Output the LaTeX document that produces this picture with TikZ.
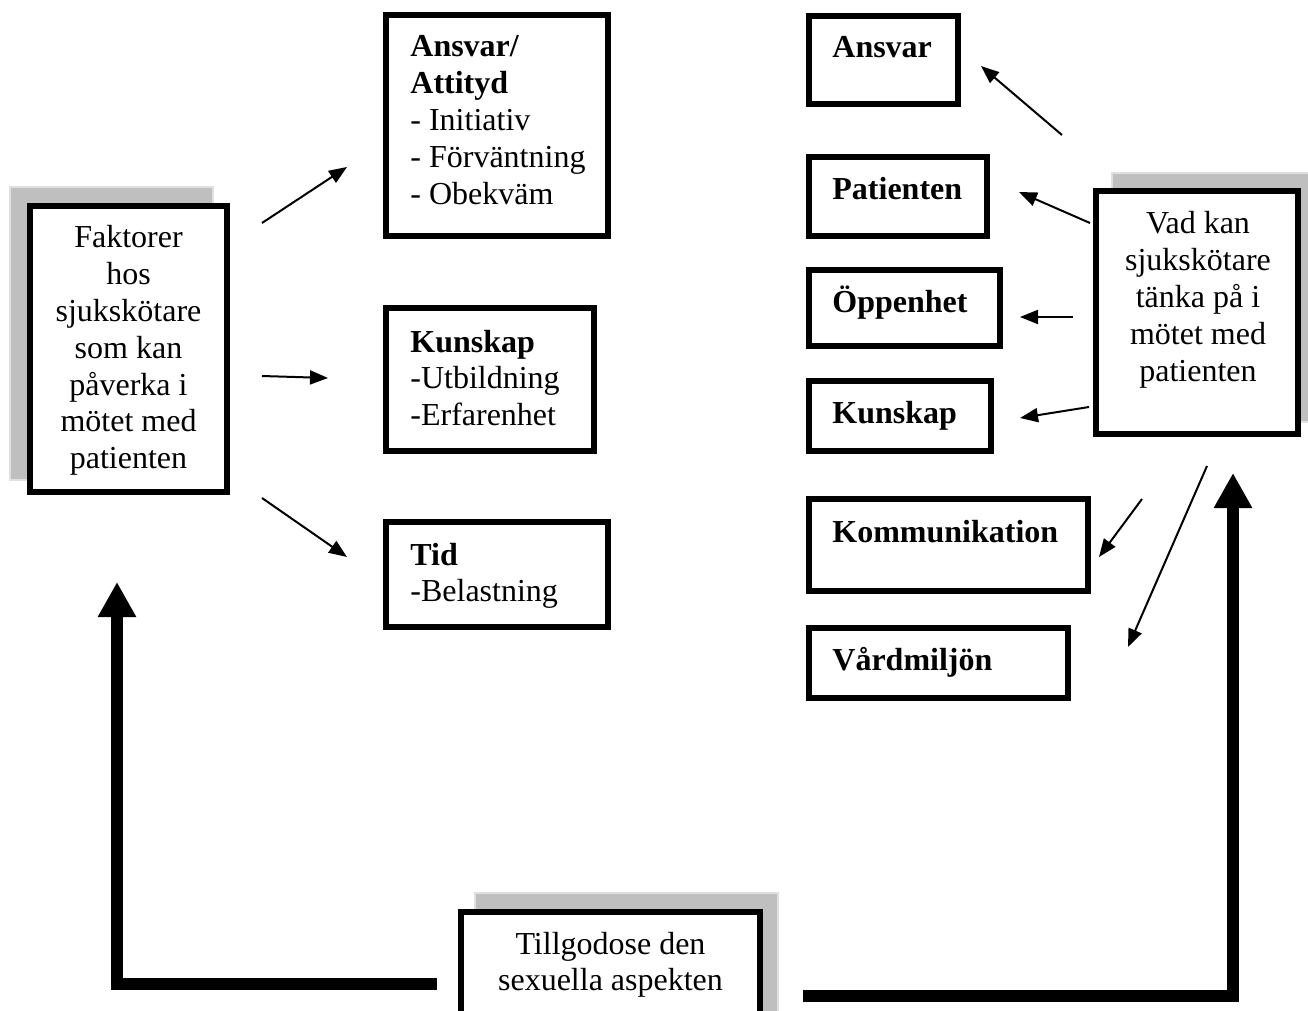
\documentclass[tikz,border=0pt]{standalone}
\usepackage{fontspec}
\setmainfont{Liberation Serif}
\usetikzlibrary{arrows.meta}
\begin{document}
\begin{tikzpicture}[x=0.5pt,y=-0.5pt,
  box/.style={draw=black, line width=3pt, fill=white, inner sep=0pt, rectangle},
  shadowbox/.style={fill=black!25, draw=black!12, line width=0.8pt},
  lbl/.style={inner sep=0pt, font=\fontsize{16}{18.4}\selectfont},
  boldlbl/.style={lbl, anchor=base west, font=\fontsize{16}{18.4}\selectfont\bfseries},
  thinarrow/.style={line width=1pt, -{Triangle[length=9pt,width=7pt]}},
  thickarrow/.style={line width=6pt, -{Triangle[length=17.5pt,width=18pt]}, line join=miter}
]
\useasboundingbox (0,0) rectangle (1308,1011);
\clip (0,0) rectangle (1308,1011);

% shadows
\path[shadowbox] (10,187) rectangle (213,480);
\path[shadowbox] (1112,173) rectangle (1322,422);
\path[shadowbox] (475,893) rectangle (778,1040);

% main boxes
\node[box, minimum width=98.5pt, minimum height=143pt] (fak) at (128.5,349) {};
\node[box, minimum width=111pt, minimum height=110.5pt] (ansatt) at (497,125.5) {};
\node[box, minimum width=104pt, minimum height=71.5pt] (kunm) at (490,379.5) {};
\node[box, minimum width=111pt, minimum height=52.5pt] (tid) at (497,574.5) {};
\node[box, minimum width=74.5pt, minimum height=44pt] (ansr) at (883.5,60) {};
\node[box, minimum width=89pt, minimum height=39.5pt] (pat) at (898,196.5) {};
\node[box, minimum width=95.5pt, minimum height=38pt] (opp) at (904.5,308) {};
\node[box, minimum width=91pt, minimum height=35pt] (kunr) at (900,416) {};
\node[box, minimum width=139.5pt, minimum height=46pt] (kom) at (948.5,545) {};
\node[box, minimum width=129.5pt, minimum height=35pt] (vard) at (938.5,663) {};
\node[box, minimum width=101pt, minimum height=121.5pt] (vad) at (1197,312.5) {};
\node[box, minimum width=149.5pt, minimum height=64pt] (till) at (610.5,976) {};

% texts
\node[lbl, anchor=base] (fak-t) at (128.5,248) {\begin{tabular}[t]{@{}c@{}}Faktorer\\hos\\sjukskötare\\som kan\\påverka i\\mötet med\\patienten\end{tabular}};
\node[lbl, anchor=base] (vad-t) at (1198,234) {\begin{tabular}[t]{@{}c@{}}Vad kan\\sjukskötare\\tänka på i\\mötet med\\patienten\end{tabular}};
\node[lbl, anchor=base] (till-t) at (610.5,954) {\begin{tabular}[t]{@{}c@{}}Tillgodose den\\sexuella aspekten\end{tabular}};

\node[lbl, anchor=base west] (ansatt-t) at (410,57) {\begin{tabular}[t]{@{}l@{}}\textbf{Ansvar/}\\\textbf{Attityd}\\- Initiativ\\- Förväntning\\- Obekväm\end{tabular}};
\node[lbl, anchor=base west] (kunm-t) at (410,352) {\begin{tabular}[t]{@{}l@{}}\textbf{Kunskap}\\-Utbildning\\-Erfarenhet\end{tabular}};
\node[lbl, anchor=base west] (tid-t) at (410,565) {\begin{tabular}[t]{@{}l@{}}\textbf{Tid}\\-Belastning\end{tabular}};

\node[boldlbl] (ansr-t) at (832,58) {Ansvar};
\node[boldlbl] (pat-t) at (832,199) {Patienten};
\node[boldlbl] (opp-t) at (832,312) {Öppenhet};
\node[boldlbl] (kunr-t) at (832,423) {Kunskap};
\node[boldlbl] (kom-t) at (832,542) {Kommunikation};
\node[boldlbl] (vard-t) at (832,670) {Vårdmiljön};

% arrow end points
\coordinate (a1s) at (262,223); \coordinate (a1e) at (347,167);
\coordinate (a2s) at (262,376); \coordinate (a2e) at (328,378);
\coordinate (a3s) at (262,498); \coordinate (a3e) at (347,557);
\coordinate (b1s) at (1062,135); \coordinate (b1e) at (981,66);
\coordinate (b2s) at (1090,223); \coordinate (b2e) at (1019,192);
\coordinate (b3s) at (1073,317); \coordinate (b3e) at (1020,317);
\coordinate (b4s) at (1089,407); \coordinate (b4e) at (1020,418);
\coordinate (b5s) at (1142,499); \coordinate (b5e) at (1099,557);
\coordinate (b6s) at (1207,466); \coordinate (b6e) at (1128,647);

\draw[thinarrow] (a1s) -- (a1e);
\draw[thinarrow] (a2s) -- (a2e);
\draw[thinarrow] (a3s) -- (a3e);
\draw[thinarrow] (b1s) -- (b1e);
\draw[thinarrow] (b2s) -- (b2e);
\draw[thinarrow] (b3s) -- (b3e);
\draw[thinarrow] (b4s) -- (b4e);
\draw[thinarrow] (b5s) -- (b5e);
\draw[thinarrow] (b6s) -- (b6e);

% thick feedback arrows
\coordinate (ls) at (437,984); \coordinate (le) at (117,582);
\coordinate (rs) at (803,996); \coordinate (re) at (1233,473);
\draw[thickarrow] (ls) -| (le);
\draw[thickarrow] (rs) -| (re);
\end{tikzpicture}
\end{document}
